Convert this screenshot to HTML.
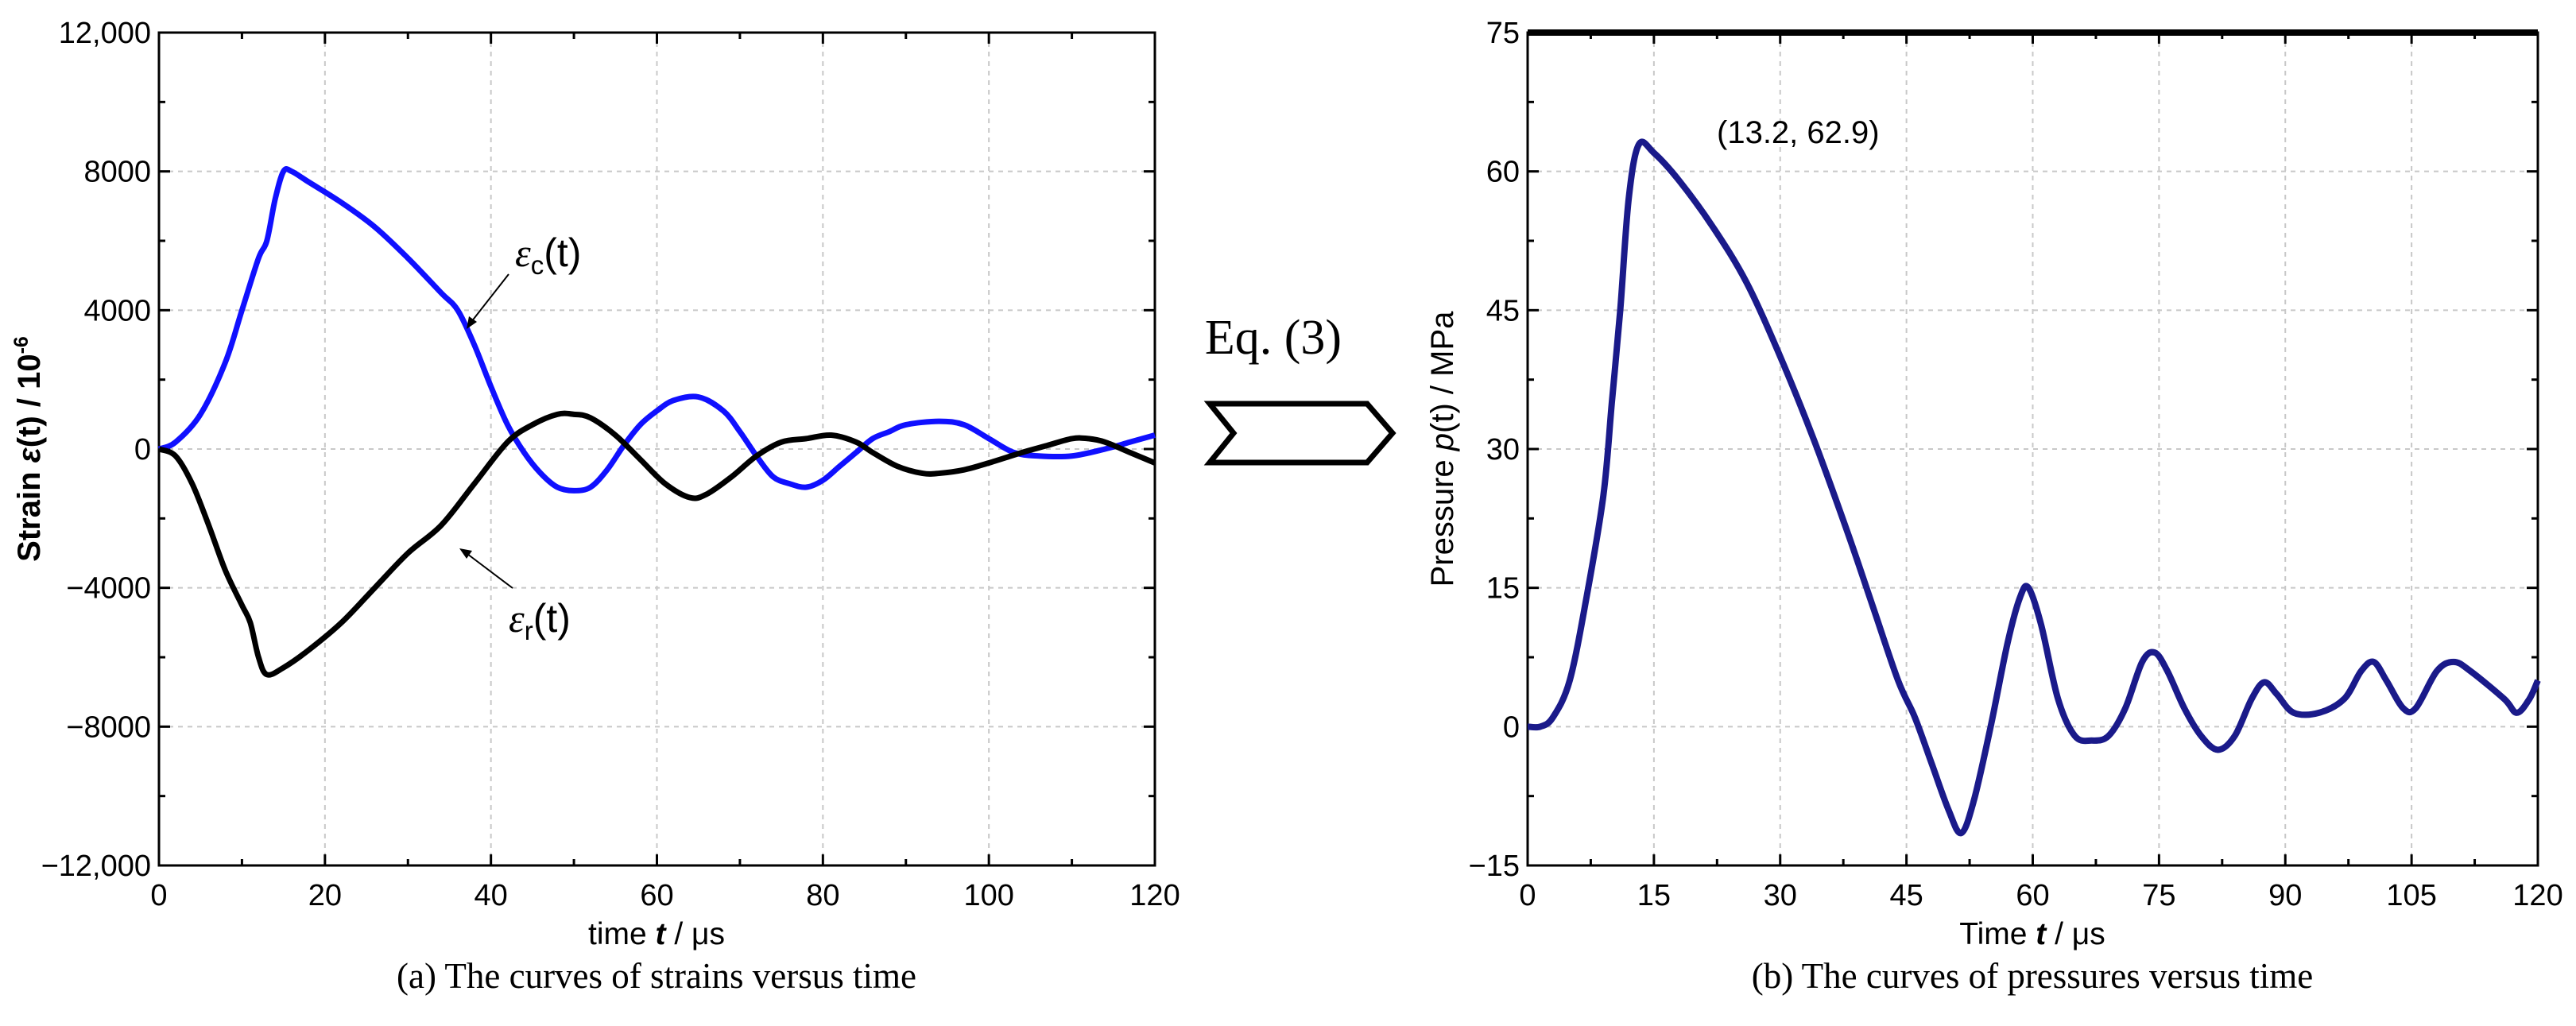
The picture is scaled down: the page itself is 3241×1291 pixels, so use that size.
<!DOCTYPE html>
<html><head><meta charset="utf-8">
<style>
html,body{margin:0;padding:0;background:#fff;}
svg{display:block;}
text{font-family:"Liberation Sans",sans-serif;}
.serif{font-family:"Liberation Serif",serif;}
</style></head>
<body>
<svg id="fig" width="3241" height="1291" viewBox="0 0 3241 1291" xmlns="http://www.w3.org/2000/svg">
<g id="left"></g>
<g id="right"></g>
<text x="1602" y="445" class="serif" font-size="62" text-anchor="middle">Eq. (3)</text>
<path d="M1522,508 L1720,508 L1752,545 L1720,582 L1522,582 L1552,545 Z" fill="none" stroke="#000" stroke-width="7"/>
<text x="826" y="1243" class="serif" font-size="45" text-anchor="middle">(a) The curves of strains versus time</text>
<text x="2557" y="1243" class="serif" font-size="45" text-anchor="middle">(b) The curves of pressures versus time</text>
</svg>
<script>
const strainT = [0,2,5,8,10,12,13,14,15,16,18,22,26,30,34,36,38,40,42,44,46,48,50,52,54,56,58,60,62,65,68,70,72,74,76,78,80,82,84,86,88,90,94,97,100,103,106,110,114,117,120];
const strainC = [0,200,1000,2500,4000,5500,6000,7200,8000,8000,7700,7100,6400,5500,4500,4000,3000,1800,700,-100,-700,-1100,-1200,-1100,-600,100,700,1100,1400,1500,1100,500,-200,-800,-1000,-1100,-900,-500,-100,300,500,700,800,700,300,-100,-200,-200,0,200,400];
const strainRT = [0,2,4,6,8,10,11,12,13,15,18,22,26,30,34,38,42,45,48,50,52,55,58,61,64,66,69,72,75,78,81,84,86,89,92,94,97,100,104,107,110,112,114,117,120];
const strainR = [0,-200,-1000,-2200,-3500,-4500,-5000,-6000,-6500,-6300,-5800,-5000,-4000,-3000,-2200,-1000,200,700,1000,1000,900,400,-300,-1000,-1400,-1300,-800,-200,200,300,400,200,-100,-500,-700,-700,-600,-400,-100,100,300,300,200,-100,-400];
const strainTicksX = [0,20,40,60,80,100,120];
const strainTicksY = [-12000,-8000,-4000,0,4000,8000,12000];
const strainTickLabelsY = ["-12,000","-8000","-4000","0","4000","8000","12,000"];
const presT = [0,1.5,3,5,7,9,10,11,12,13.2,15,18,22,26,30,34,38,41,44,46,48,50,51.5,53,55,57,58.5,59.5,61,63,65,67,69,71,73,74.5,76,78,80,82,84,86,87.5,89,91,94,97,99,100.5,102,104,105.5,108,110,112,116,117.5,119,120];
const presP = [0,0,1,5,14,25,35,45,57,62.9,62,59,54,48,40,31,21,13,5,1,-4,-9,-11.5,-8,0,9,14,15,11,3,-1,-1.5,-1,2,7,8,6,2,-1,-2.5,-1,3,4.8,3.5,1.5,1.5,3,6,7,5,2,2,6,7,6,3,1.5,3,5];
const presTicksX = [0,15,30,45,60,75,90,105,120];
const presTicksY = [-15,0,15,30,45,60,75];

const NS="http://www.w3.org/2000/svg";
function mk(parent,tag,attrs,txt){const e=document.createElementNS(NS,tag);for(const k in attrs)e.setAttribute(k,attrs[k]);if(txt!==undefined)e.textContent=txt;parent.appendChild(e);return e;}
function smooth(pts){let d="M"+pts[0][0]+","+pts[0][1];for(let i=0;i<pts.length-1;i++){const p0=pts[i-1]||pts[i],p1=pts[i],p2=pts[i+1],p3=pts[i+2]||p2;const c1=[p1[0]+(p2[0]-p0[0])/6,p1[1]+(p2[1]-p0[1])/6],c2=[p2[0]-(p3[0]-p1[0])/6,p2[1]-(p3[1]-p1[1])/6];d+=" C"+c1+" "+c2+" "+p2;}return d;}

function axes(g,L,R,T,B,xmin,xmax,ymin,ymax,xt,yt,ylabels,thickTop){
  const sx=v=>L+(v-xmin)/(xmax-xmin)*(R-L), sy=v=>B-(v-ymin)/(ymax-ymin)*(B-T);
  const dx=xt[1]-xt[0], dy=yt[1]-yt[0];
  xt.forEach(v=>{ if(v>xmin&&v<xmax){const l=mk(g,'line',{x1:sx(v),x2:sx(v),y1:T,y2:B,stroke:'#c8c8c8','stroke-width':2,'stroke-dasharray':'6,6'});
    }});
  yt.forEach(v=>{ if(v>ymin&&v<ymax){const l=mk(g,'line',{y1:sy(v),y2:sy(v),x1:L,x2:R,stroke:'#c8c8c8','stroke-width':2,'stroke-dasharray':'6,6'});
    }});
  for(let v=xmin;v<=xmax+1e-9;v+=dx/2){const maj=Math.abs(((v-xmin)/dx)%1)<1e-6;const len=maj?14:8;
    mk(g,'line',{x1:sx(v),x2:sx(v),y1:B,y2:B-len,stroke:'#000','stroke-width':3});
    mk(g,'line',{x1:sx(v),x2:sx(v),y1:T,y2:T+len,stroke:'#000','stroke-width':3});}
  for(let v=ymin;v<=ymax+1e-9;v+=dy/2){const maj=Math.abs(((v-ymin)/dy)%1)<1e-6;const len=maj?14:8;
    mk(g,'line',{y1:sy(v),y2:sy(v),x1:L,x2:L+len,stroke:'#000','stroke-width':3});
    mk(g,'line',{y1:sy(v),y2:sy(v),x1:R,x2:R-len,stroke:'#000','stroke-width':3});}
  const fr=mk(g,'rect',{x:L,y:T,width:R-L,height:B-T,fill:'none',stroke:'#000','stroke-width':3});
  
  if(thickTop) mk(g,'line',{x1:L,x2:R,y1:T,y2:T,stroke:'#000','stroke-width':8});
  xt.forEach(v=>{const t=mk(g,'text',{x:sx(v),y:B+50,'font-size':38,'text-anchor':'middle'},String(v));
    });
  yt.forEach((v,i)=>{const t=mk(g,'text',{x:L-10,y:sy(v)+13,'font-size':38,'text-anchor':'end'},ylabels?ylabels[i].replace('-','\u2212'):String(v).replace('-','\u2212'));
    });
  return {sx,sy};
}

const gL=document.getElementById('left');
const A=axes(gL,200,1453,41,1089,0,120,-12000,12000,strainTicksX,strainTicksY,strainTickLabelsY,false);
let p=mk(gL,'path',{d:smooth(strainT.map((t,i)=>[A.sx(t),A.sy(strainC[i])])),fill:'none',stroke:'#1010ff','stroke-width':7,'stroke-linejoin':'round'});


p=mk(gL,'path',{d:smooth(strainRT.map((t,i)=>[A.sx(t),A.sy(strainR[i])])),fill:'none',stroke:'#000','stroke-width':7,'stroke-linejoin':'round'});


gL.insertAdjacentHTML('beforeend',`
<text x="826" y="1188" font-size="39" text-anchor="middle">time <tspan font-style="italic" font-weight="bold">t</tspan> / μs</text>
<text transform="translate(50,565) rotate(-90)" font-size="40" font-weight="bold" text-anchor="middle">Strain <tspan font-style="italic">ε</tspan>(t) / 10<tspan font-size="25" dy="-15">-6</tspan></text>
<text x="648" y="335" font-size="50"><tspan font-family="Liberation Serif" font-style="italic">ε</tspan><tspan font-size="33" dy="10">c</tspan><tspan dy="-10">(t)</tspan></text>
<line x1="640" y1="345" x2="593" y2="405" stroke="#000" stroke-width="2"/>
<path d="M587,414 L590,398 L600,405 Z" fill="#000"/>
<text x="640" y="795" font-size="50"><tspan font-family="Liberation Serif" font-style="italic">ε</tspan><tspan font-size="33" dy="10">r</tspan><tspan dy="-10">(t)</tspan></text>
<line x1="645" y1="740" x2="588" y2="697" stroke="#000" stroke-width="2"/>
<path d="M578,690 L594,693 L587,703 Z" fill="#000"/>`);

const gR=document.getElementById('right');
const B2=axes(gR,1922,3193,41,1089,0,120,-15,75,presTicksX,presTicksY,null,true);
p=mk(gR,'path',{d:smooth(presT.map((t,i)=>[B2.sx(t),B2.sy(presP[i])])),fill:'none',stroke:'#1a1a8a','stroke-width':8,'stroke-linejoin':'round'});


gR.insertAdjacentHTML('beforeend',`
<text x="2557" y="1188" font-size="39" text-anchor="middle">Time <tspan font-style="italic" font-weight="bold">t</tspan> / μs</text>
<text transform="translate(1828,565) rotate(-90)" font-size="40" text-anchor="middle">Pressure <tspan font-style="italic">p</tspan>(t) / MPa</text>
<text x="2160" y="180" font-size="40">(13.2, 62.9)</text>`);
</script>
</body></html>
